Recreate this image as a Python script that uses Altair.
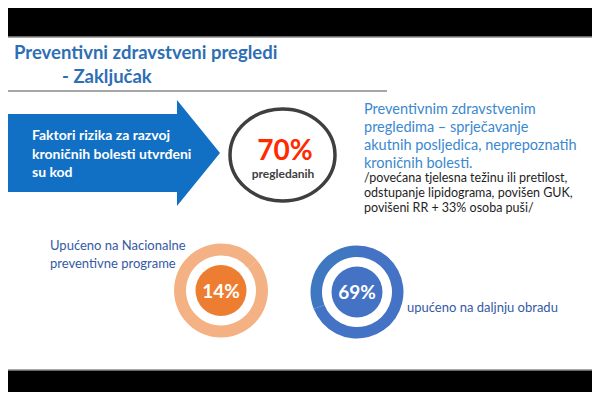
import altair as alt
import pandas as pd

# ---------------- data / text content ----------------
title_lines = ["Preventivni zdravstveni pregledi", "- Zaključak"]
arrow_lines = ["Faktori rizika za razvoj", "kroničnih bolesti utvrđeni", "su kod"]
screened_pct = [70]
screened_label = ["pregledanih"]
right_lines = ["Preventivnim zdravstvenim", "pregledima – sprječavanje",
               "akutnih posljedica, neprepoznatih", "kroničnih bolesti."]
note_lines = ["/povećana tjelesna težinu ili pretilost,",
              "odstupanje lipidograma, povišen GUK,",
              "povišeni RR + 33% osoba puši/"]
national_lines = ["Upućeno na Nacionalne", "preventivne programe"]
national_ring = [14, 86]
national_ring_colors = ["#F4B183", "#F4B183"]
further_lines = ["upućeno na daljnju obradu"]
further_ring = [69, 31]
further_ring_colors = ["#4472C4", "#3F78C1"]

W, H = 584, 384
OFF = 8
FONT = "Lato"


def txt(lines, x, y, size, color, weight="normal", align="left",
        baseline="alphabetic", lh=None):
    df = pd.DataFrame({"t": ["\n".join(lines)]})
    return alt.Chart(df).mark_text(
        align=align, baseline=baseline, fontSize=size, font=FONT,
        fontWeight=weight, color=color, lineBreak="\n",
        lineHeight=lh if lh else size * 1.2,
    ).encode(x=alt.value(x - OFF), y=alt.value(y - OFF), text="t:N")


def donut(values, colors, pct, cx, cy, r_out, r_in, r_core, core_color):
    df = pd.DataFrame({"v": values, "c": colors, "i": list(range(len(values)))})
    ring = alt.Chart(df).mark_arc(radius=r_out, radius2=r_in).encode(
        theta=alt.Theta("v:Q", stack=True, scale=alt.Scale(domain=[0, 100])),
        color=alt.Color("c:N", scale=None),
        order=alt.Order("i:Q"),
        x=alt.value(cx - OFF), y=alt.value(cy - OFF),
    )
    core = alt.Chart(pd.DataFrame({"p": [pct]})).mark_arc(
        radius=r_core, theta=0, theta2=6.2832, color=core_color
    ).encode(x=alt.value(cx - OFF), y=alt.value(cy - OFF))
    label = alt.Chart(pd.DataFrame({"p": [pct]})).transform_calculate(
        lab="datum.p + '%'"
    ).mark_text(fontSize=19, font=FONT, fontWeight="bold", color="white",
                align="center", baseline="middle").encode(
        x=alt.value(cx - OFF), y=alt.value(cy + 1 - OFF), text="lab:N")
    return [ring, core, label]


one = pd.DataFrame({"a": [0]})

slide = alt.Chart(one).mark_rect(color="white", stroke="#8C8C8C", strokeWidth=1.5).encode(
    x=alt.value(3 - OFF), x2=alt.value(597 - OFF),
    y=alt.value(37 - OFF), y2=alt.value(370 - OFF))

title_rule = alt.Chart(one).mark_rule(color="#A6A6A6", strokeWidth=2).encode(
    x=alt.value(3 - OFF), x2=alt.value(387 - OFF), y=alt.value(91 - OFF))

title1 = txt(title_lines[:1], 14, 59, 18.5, "#2E6EB4", weight="bold")
title2 = txt(title_lines[1:], 62, 83, 18.5, "#2E6EB4", weight="bold")

# arrow shape (custom symbol path in unit box)
arrow_path = ("M -1 -0.366 L 0.596 -0.366 L 0.596 -0.498 L 1 0 "
              "L 0.596 0.498 L 0.596 0.366 L -1 0.366 Z")
arrow = alt.Chart(one).mark_point(shape=arrow_path, size=213 ** 2, filled=True,
                                  color="#1170C4", opacity=1, strokeWidth=0).encode(
    x=alt.value(113.5 - OFF), y=alt.value(153 - OFF))
arrow_txt = txt(arrow_lines, 32, 140, 14, "white", weight="bold", lh=18.5)

e, k = 0.876, 0.5523
ke = k * e
ellipse_path = (f"M 1 0 C 1 {ke:.4f} {k} {e} 0 {e} C {-k} {e} -1 {ke:.4f} -1 0 "
                f"C -1 {-ke:.4f} {-k} {-e} 0 {-e} C {k} {-e} 1 {-ke:.4f} 1 0 Z")
ellipse = alt.Chart(one).mark_point(shape=ellipse_path, size=105 ** 2, filled=False,
                                    color="#3F3F3F", strokeWidth=3.5, opacity=1).encode(
    x=alt.value(282.5 - OFF), y=alt.value(155 - OFF))

pct70 = alt.Chart(pd.DataFrame({"p": screened_pct})).transform_calculate(
    lab="datum.p + '%'").mark_text(fontSize=28, font=FONT, fontWeight="bold",
                                   color="#FF2A00", align="center").encode(
    x=alt.value(285 - OFF), y=alt.value(152 - OFF), text="lab:N")
preg = txt(screened_label, 283, 178, 12, "#404040", weight="bold", align="center")

right_txt = txt(right_lines, 364, 114, 14.5, "#3A88CF", lh=18)
note_txt = txt(note_lines, 364, 182, 12.5, "#1E1E1E", lh=15)

national_txt = txt(national_lines, 50, 250, 13, "#3559A6", lh=17.5)
further_txt = txt(further_lines, 407, 312, 13, "#3559A6")

d1 = donut(national_ring, national_ring_colors, 14, 221, 290.5, 47, 35, 25.5, "#ED7D31")
d2 = donut(further_ring, further_ring_colors, 69, 357, 292, 46.5, 35, 25.5, "#4472C4")

chart = alt.layer(
    slide, title_rule, title1, title2, arrow, arrow_txt, ellipse, pct70, preg,
    right_txt, note_txt, national_txt, further_txt, *d1, *d2,
).properties(
    width=W, height=H, background="#000000", padding=0,
    autosize=alt.AutoSizeParams(type="none"),
).configure_view(stroke=None)

chart.save("out.html", embed_options={"renderer": "svg", "actions": False})
